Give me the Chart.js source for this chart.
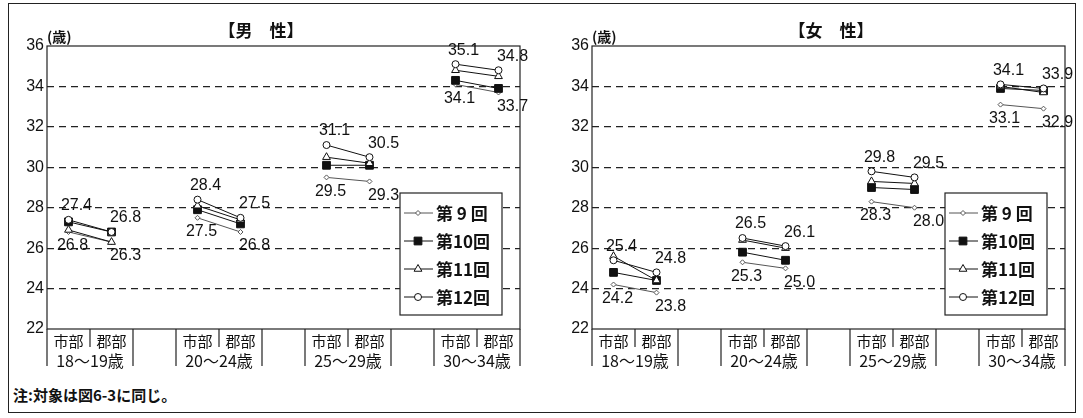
<!DOCTYPE html>
<html>
<head>
<meta charset="utf-8">
<script src="https://cdn.jsdelivr.net/npm/chart.js@4.4.0/dist/chart.umd.min.js"></script>
<style>
  body { margin: 0; background: #fff; }
  #wrap { position: relative; width: 1083px; height: 418px; }
  #frame { position: absolute; left: 8px; top: 3px; width: 1068px; height: 410px; border: 1.5px solid #222; box-sizing: border-box; }
  canvas { position: absolute; top: 0; }
  #note { position: absolute; left: 13px; top: 384px; font: bold 15px "Noto Sans CJK JP"; color: #111; }
</style>
</head>
<body>
<div id="wrap">
  <div id="frame"></div>
  <canvas id="male" width="540" height="380" style="left:0"></canvas>
  <canvas id="female" width="540" height="380" style="left:545px"></canvas>
  <div id="note">注:対象は図6-3に同じ。</div>
</div>
<script>
// Data: each array is [市部, 郡部] for 18～19, 20～24, 25～29, 30～34
const areas = ['市部', '郡部'];
const ageGroups = ['18～19歳', '20～24歳', '25～29歳', '30～34歳'];
const surveys = ['第 9 回', '第10回', '第11回', '第12回'];
const yTicks = [22, 24, 26, 28, 30, 32, 34, 36];

const male9  = [26.8, 26.3, 27.5, 26.8, 29.5, 29.3, 34.1, 33.7];
const male10 = [27.3, 26.8, 27.9, 27.2, 30.1, 30.1, 34.3, 33.9];
const male11 = [26.9, 26.3, 28.1, 27.4, 30.5, 30.2, 34.8, 34.5];
const male12 = [27.4, 26.8, 28.4, 27.5, 31.1, 30.5, 35.1, 34.8];

const female9  = [24.2, 23.8, 25.3, 25.0, 28.3, 28.0, 33.1, 32.9];
const female10 = [24.8, 24.4, 25.8, 25.4, 29.0, 28.9, 33.9, 33.8];
const female11 = [25.6, 24.4, 26.4, 26.0, 29.3, 29.2, 34.0, 33.7];
const female12 = [25.4, 24.8, 26.5, 26.1, 29.8, 29.5, 34.1, 33.9];

const seriesStyle = [
  { pointStyle: 'rectRot', radius: 2.5, line: '#555', fill: '#fff' },
  { pointStyle: 'rect', radius: 5.5, line: '#111', fill: '#111' },
  { pointStyle: 'triangle', radius: 4.5, line: '#111', fill: '#fff' },
  { pointStyle: 'circle', radius: 3.5, line: '#111', fill: '#fff' }
];

// spread the 8 values into 11 slots with an empty slot between age groups
function toSlots(v) {
  const out = [];
  for (let g = 0; g < 4; g++) {
    out.push(v[2 * g], v[2 * g + 1]);
    if (g < 3) out.push(null);
  }
  return out;
}

const cjk = '"Noto Sans CJK JP", sans-serif';
const latin = '"Liberation Sans", Arial, sans-serif';

function marker(ctx, s, x, y) {
  ctx.save();
  ctx.fillStyle = s.fill;
  ctx.strokeStyle = s.line;
  ctx.lineWidth = 1;
  Chart.helpers.drawPoint(ctx, { pointStyle: s.pointStyle, radius: s.radius, rotation: 0, borderWidth: 1 }, x, y);
  ctx.restore();
}

const decor = {
  id: 'decor',
  afterDraw(chart, args, opts) {
    const ctx = chart.ctx;
    const a = chart.chartArea;
    const xs = chart.scales.x;
    const slotW = (a.right - a.left) / 11;
    ctx.save();

    // plot frame
    ctx.strokeStyle = '#222';
    ctx.lineWidth = 1.2;
    ctx.strokeRect(a.left, a.top, a.right - a.left, a.bottom - a.top);

    // category ticks below the axis
    ctx.beginPath();
    for (let g = 0; g < 4; g++) {
      const c = xs.getPixelForValue(3 * g);
      const l = c - slotW / 2, m = c + slotW / 2, r = c + slotW * 1.5;
      ctx.moveTo(l, a.bottom); ctx.lineTo(l, a.bottom + 37);
      ctx.moveTo(m, a.bottom); ctx.lineTo(m, a.bottom + 18);
      ctx.moveTo(r, a.bottom); ctx.lineTo(r, a.bottom + 37);
    }
    ctx.stroke();

    ctx.fillStyle = '#111';
    ctx.textAlign = 'center';
    ctx.textBaseline = 'middle';
    for (let g = 0; g < 4; g++) {
      const c1 = xs.getPixelForValue(3 * g);
      const c2 = xs.getPixelForValue(3 * g + 1);
      ctx.font = '15px ' + cjk;
      ctx.fillText(areas[0], c1, a.bottom + 12);
      ctx.fillText(areas[1], c2, a.bottom + 12);
      ctx.font = '16px ' + cjk;
      ctx.fillText(ageGroups[g], (c1 + c2) / 2, a.bottom + 32);
    }

    // title and unit
    ctx.font = 'bold 17px ' + cjk;
    ctx.fillText(opts.title, opts.titleX, 31);
    ctx.font = 'bold 14px ' + cjk;
    ctx.textAlign = 'left';
    ctx.fillText('(歳)', a.left, 37);

    // value labels: 第12回 above, 第9回 below
    ctx.font = '16px ' + latin;
    ctx.textAlign = 'center';
    const top = chart.getDatasetMeta(3).data;
    const bot = chart.getDatasetMeta(0).data;
    const topOff = [[8, -14], [14, -14]];
    const botOff = [[4, 14], [14, 14]];
    chart.data.datasets[3].data.forEach((v, i) => {
      if (v === null) return;
      const o = topOff[i % 3];
      ctx.fillText(v.toFixed(1), top[i].x + o[0], top[i].y + o[1]);
    });
    chart.data.datasets[0].data.forEach((v, i) => {
      if (v === null) return;
      const o = botOff[i % 3];
      ctx.fillText(v.toFixed(1), bot[i].x + o[0], bot[i].y + o[1]);
    });

    // legend box
    const bx = a.right - 120, by = 193, bw = 102, bh = 122;
    ctx.fillStyle = '#fff';
    ctx.fillRect(bx, by, bw, bh);
    ctx.strokeStyle = '#222';
    ctx.lineWidth = 1.2;
    ctx.strokeRect(bx, by, bw, bh);
    ctx.font = 'bold 17px ' + cjk;
    ctx.textAlign = 'left';
    surveys.forEach((name, i) => {
      const y = by + 20 + i * 28;
      const s = seriesStyle[i];
      ctx.strokeStyle = s.line;
      ctx.lineWidth = 1;
      ctx.beginPath();
      ctx.moveTo(bx + 4, y); ctx.lineTo(bx + 33, y);
      ctx.stroke();
      marker(ctx, s, bx + 18, y);
      ctx.fillStyle = '#111';
      ctx.fillText(name, bx + 36, y + 1);
    });
    ctx.restore();
  }
};

function makeChart(id, title, titleX, series) {
  const datasets = series.map((v, i) => ({
    label: surveys[i],
    data: toSlots(v),
    borderColor: seriesStyle[i].line,
    borderWidth: 1,
    pointStyle: seriesStyle[i].pointStyle,
    pointRadius: seriesStyle[i].radius,
    pointBackgroundColor: seriesStyle[i].fill,
    pointBorderColor: seriesStyle[i].line,
    pointBorderWidth: 1,
    spanGaps: false,
    order: 4 - i
  }));
  return new Chart(document.getElementById(id), {
    type: 'line',
    data: { labels: toSlots(ageGroups.flatMap(g => areas.map(a => g + a))).map(l => l || ''), datasets },
    options: {
      responsive: false,
      animation: false,
      devicePixelRatio: 1,
      layout: { padding: { left: 0, top: 46, right: 20, bottom: 0 } },
      plugins: { legend: { display: false }, tooltip: { enabled: false }, decor: { title, titleX } },
      scales: {
        x: {
          type: 'category',
          offset: true,
          grid: { display: false },
          border: { display: false },
          ticks: { display: false },
          afterFit(s) { s.height = 51; }
        },
        y: {
          min: yTicks[0],
          max: yTicks[yTicks.length - 1],
          afterBuildTicks(s) { s.ticks = yTicks.map(v => ({ value: v })); },
          grid: {
            drawTicks: false,
            color: c => (c.tick && (c.tick.value === 22 || c.tick.value === 36)) ? 'rgba(0,0,0,0)' : '#222',
            lineWidth: 1.2
          },
          border: { display: false, dash: [7, 5] },
          ticks: { font: { family: latin, size: 16 }, color: '#111', padding: 3 },
          afterFit(s) { s.width = 47; }
        }
      }
    },
    plugins: [decor]
  });
}

makeChart('male', '【男　性】', 261, [male9, male10, male11, male12]);
makeChart('female', '【女　性】', 286, [female9, female10, female11, female12]);
</script>
</body>
</html>
